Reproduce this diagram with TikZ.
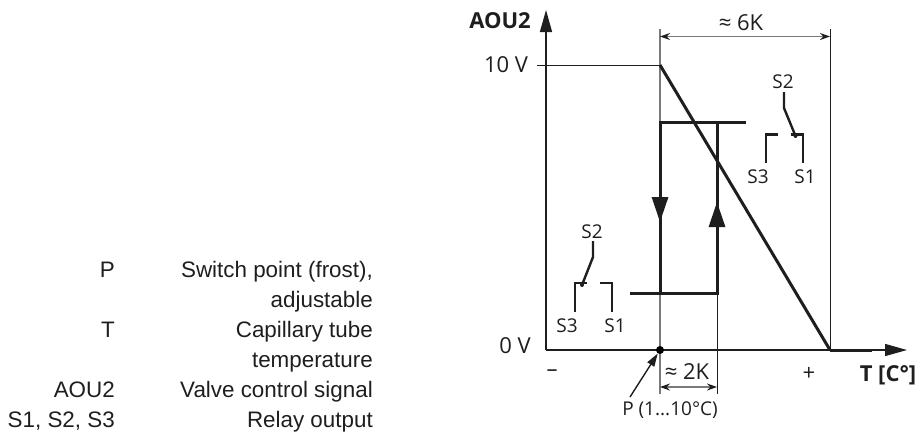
\documentclass[tikz,border=0pt]{standalone}
\usepackage{fontspec}
\setmainfont{Open Sans}
\newfontfamily\legendfont{Liberation Sans}
\usetikzlibrary{arrows.meta, positioning}

\definecolor{inkgray}{HTML}{1E1E1E}
\definecolor{dimgray}{HTML}{7A7A7A}

\begin{document}
\begin{tikzpicture}[
    x=1pt, y=-1pt,
    label/.style={text=inkgray, font=\fontsize{22}{24}\selectfont, inner sep=0pt},
    boldlabel/.style={text=inkgray, font=\fontsize{22}{24}\selectfont\bfseries, inner sep=0pt},
    relaylabel/.style={text=inkgray, font=\fontsize{19}{21}\selectfont, inner sep=0pt},
    legend/.style={text=inkgray, font=\legendfont\fontsize{22.4}{24}\selectfont, inner sep=0pt, anchor=base east},
    axis/.style={draw=inkgray, line width=1.4pt, -{Triangle[length=22pt,width=12pt]}},
    thin line/.style={draw=inkgray, line width=1pt},
    guide/.style={draw=dimgray, line width=1.4pt},
    curve/.style={draw=inkgray, line width=3pt},
    contact/.style={draw=inkgray, line width=2.4pt},
    dim/.style={draw=dimgray, line width=1.2pt, {Stealth[length=10pt,width=7pt,inkgray]}-{Stealth[length=10pt,width=7pt,inkgray]}},
    flow/.style={draw=inkgray, line width=3pt, -{Triangle[length=25pt,width=16pt]}}
]
\useasboundingbox (0,0) rectangle (917,432);

% Axis corners
\coordinate (origin) at (546,350);
\coordinate (ytop) at (546,10);
\coordinate (xend) at (907,350);

% Switch point and band limits
\coordinate (ptop) at (660,29);
\coordinate (pbot) at (660,394);
\coordinate (start) at (660,65);
\coordinate (tick) at (537,65);
\coordinate (band) at (830,350);
\coordinate (bandtop) at (830,29);
\coordinate (flat) at (872,350);
\coordinate (lim) at (717,293);
\coordinate (limbot) at (717,394);

% Hysteresis loop
\coordinate (hleft) at (660,122);
\coordinate (htop) at (717,122);
\coordinate (hout) at (746,122);
\coordinate (lleft) at (630,293);
\coordinate (lmid) at (660,293);
\coordinate (downtip) at (660,222);
\coordinate (uptip) at (717,202);

% Dimension ends
\coordinate (sixa) at (660,36.5);
\coordinate (sixb) at (830,36.5);
\coordinate (twoa) at (660,387);
\coordinate (twob) at (717,387);

% Guides
\draw[guide] (ptop) -- (pbot);
\draw[thin line] (bandtop) -- (band);
\draw[thin line] (lim) -- (limbot);
\draw[thin line] (tick) -- (start);

% Axes
\draw[axis] (origin) -- (ytop);
\draw[axis] (origin) -- (xend);

% Control signal
\draw[curve] (start) -- (band);
\draw[curve] (band) -- (flat);

% Hysteresis
\draw[curve] (hout) -- (hleft) -- (lmid);
\draw[curve] (lleft) -- (lim) -- (htop);
\draw[flow] (hleft) -- (downtip);
\draw[flow] (lim) -- (uptip);

% Dimensions
\draw[dim] (sixa) -- (sixb);
\draw[dim] (twoa) -- (twob);

% Switch point
\node[circle, fill=black, minimum size=8pt, inner sep=0pt] (point) at (660,350) {};
\node[relaylabel] (plabel) at (670,410.5) {P (1...10°C)};
\coordinate (pfoot) at (630,397);
\draw[draw=inkgray, line width=1.4pt, -{Triangle[length=13pt,width=8pt]}] (pfoot) -- (point);

% Axis labels
\node[boldlabel] (aou) at (500,21) {AOU2};
\node[label] (tenv) at (506,65) {10 V};
\node[label] (zerov) at (515,346) {0 V};
\node[label] (minus) at (552,373) {–};
\node[label] (plus) at (809,374) {+};
\node[boldlabel] (temp) at (888,375) {T [C°]};
\node[label] (six) at (741,23) {≈ 6K};
\node[label] (two) at (687,372) {≈ 2K};

% Upper relay
\node[relaylabel] (rtwo) at (783,82) {S2};
\node[relaylabel] (rthree) at (758,177) {S3};
\node[relaylabel] (rone) at (805,177) {S1};
\coordinate (ra) at (784,92);
\coordinate (rb) at (784,108);
\coordinate (rc) at (795.5,136);
\coordinate (rd) at (766,163);
\coordinate (re) at (766,134.5);
\coordinate (rf) at (777.5,134.5);
\coordinate (rg) at (803,163);
\coordinate (rh) at (803,134.5);
\coordinate (ri) at (791,134.5);
\draw[contact] (ra) -- (rb) -- (rc);
\draw[contact] (rd) -- (re) -- (rf);
\draw[contact] (rg) -- (rh) -- (ri);
\fill[inkgray] (rc) circle (2pt);

% Lower relay
\node[relaylabel] (ltwo) at (592,232) {S2};
\node[relaylabel] (lthree) at (567,326) {S3};
\node[relaylabel] (lone) at (615,326) {S1};
\coordinate (la) at (593,241);
\coordinate (lb) at (593,257);
\coordinate (lc) at (582,285);
\coordinate (ld) at (575,312);
\coordinate (le) at (575,283);
\coordinate (lf) at (587,283);
\coordinate (lg) at (612,312);
\coordinate (lh) at (612,283);
\coordinate (li) at (600,283);
\draw[contact] (la) -- (lb) -- (lc);
\draw[contact] (ld) -- (le) -- (lf);
\draw[contact] (lg) -- (lh) -- (li);
\fill[inkgray] (lc) circle (2pt);

% Legend
\node[legend] (kp) at (115,277) {P};
\node[legend] (vp) at (373,277) {Switch point (frost),};
\node[legend] (vpb) at (373,307) {adjustable};
\node[legend] (kt) at (115,337) {T};
\node[legend] (vt) at (373,337) {Capillary tube};
\node[legend] (vtb) at (373,367) {temperature};
\node[legend] (ka) at (115,397) {AOU2};
\node[legend] (va) at (373,397) {Valve control signal};
\node[legend] (ks) at (115,427) {S1, S2, S3};
\node[legend] (vs) at (373,427) {Relay output};

\end{tikzpicture}
\end{document}
